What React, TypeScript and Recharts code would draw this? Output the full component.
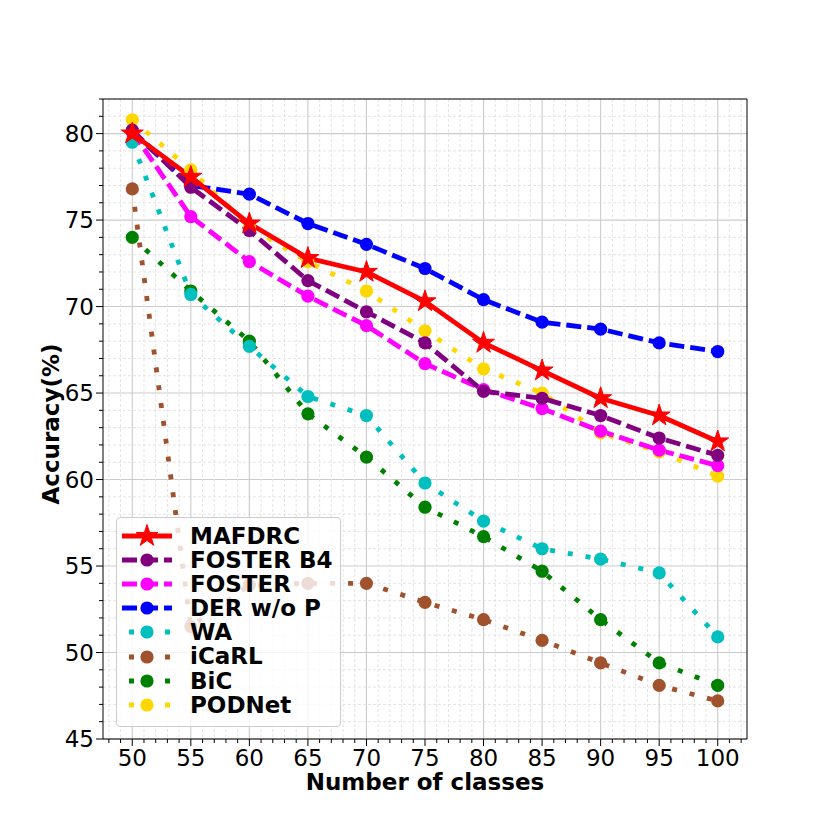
import React from "react";
import { LineChart, Line, XAxis, YAxis, CartesianGrid, Legend, Label, ReferenceLine } from "recharts";

const classes = [50, 55, 60, 65, 70, 75, 80, 85, 90, 95, 100];

const mafdrc = [80.0, 77.5, 74.8, 72.8, 72.0, 70.3, 67.9, 66.3, 64.7, 63.7, 62.2];
const fosterB4 = [80.2, 76.9, 74.4, 71.5, 69.7, 67.9, 65.1, 64.7, 63.7, 62.4, 61.4];
const foster = [80.1, 75.2, 72.6, 70.6, 68.9, 66.7, 65.2, 64.1, 62.8, 61.7, 60.8];
const derWoP = [80.1, 77.0, 76.5, 74.8, 73.6, 72.2, 70.4, 69.1, 68.7, 67.9, 67.4];
const wa = [79.5, 70.7, 67.7, 64.8, 63.7, 59.8, 57.6, 56.0, 55.4, 54.6, 50.9];
const icarl = [76.8, 51.5, 53.9, 54.0, 54.0, 52.9, 51.9, 50.7, 49.4, 48.1, 47.2];
const bic = [74.0, 70.9, 68.0, 63.8, 61.3, 58.4, 56.7, 54.7, 51.9, 49.4, 48.1];
const podnet = [80.8, 77.9, 74.6, 72.6, 70.9, 68.6, 66.4, 65.0, 62.7, 61.6, 60.2];

const seriesNames = ["MAFDRC", "FOSTER B4", "FOSTER", "DER w/o P", "WA", "iCaRL", "BiC", "PODNet"];
const seriesValues = [mafdrc, fosterB4, foster, derWoP, wa, icarl, bic, podnet];
const seriesColors = ["#ff0000", "#800080", "#ff00ff", "#0000ff", "#00bfbf", "#a0522d", "#008000", "#ffd700"];
const seriesStyles = ["solid", "dashed", "dashed", "dashed", "dotted", "dotted", "dotted", "dotted"];

// every integer gets a tick; multiples of 5 are the labelled major ones
const xTicks = Array.from({ length: 55 }, (_, i) => 48 + i);
const yTicks = Array.from({ length: 38 }, (_, i) => 45 + i);
const xDomain = [47.5, 102.5];
const yDomain = [45, 82];

const FONT = "DejaVu Sans";
const LW = 4.8;

const isMajor = (v: number) => v % 5 === 0;
const dashFor = (s: string) => (s === "dashed" ? "15 6" : s === "dotted" ? "5 13" : undefined);

const data = classes.map((c, i) => {
  const row: any = { classes: c };
  seriesNames.forEach((n, k) => {
    row[n] = seriesValues[k][i];
  });
  return row;
});

function starPoints(cx: number, cy: number, R: number) {
  const r = R * 0.382;
  const pts: string[] = [];
  for (let k = 0; k < 10; k++) {
    const a = -Math.PI / 2 + (k * Math.PI) / 5;
    const rad = k % 2 === 0 ? R : r;
    pts.push(`${cx + rad * Math.cos(a)},${cy + rad * Math.sin(a)}`);
  }
  return pts.join(" ");
}

const marker = (name: string, color: string, cx: number, cy: number, key?: any) =>
  name === "MAFDRC" ? (
    <polygon key={key} points={starPoints(cx, cy, 11.5)} fill={color} stroke={color} strokeWidth={1} />
  ) : (
    <circle key={key} cx={cx} cy={cy} r={6.6} fill={color} />
  );

const XTick = (props: any) => {
  const { x, y, payload } = props;
  const v = payload.value;
  const major = isMajor(v);
  return (
    <g>
      <line x1={x} y1={y} x2={x} y2={y + (major ? 7 : 4)} stroke="#000" strokeWidth={1} />
      {major && (
        <text x={x} y={y + 10.5} dy="0.71em" textAnchor="middle" fontFamily={FONT} fontSize={23} fill="#000">
          {v}
        </text>
      )}
    </g>
  );
};

const YTick = (props: any) => {
  const { x, y, payload } = props;
  const v = payload.value;
  const major = isMajor(v);
  return (
    <g>
      <line x1={x} y1={y} x2={x - (major ? 7 : 4)} y2={y} stroke="#000" strokeWidth={1} />
      {major && (
        <text x={x - 9} y={y} dy="0.355em" textAnchor="end" fontFamily={FONT} fontSize={23} fill="#000">
          {v}
        </text>
      )}
    </g>
  );
};

const gridLine = (ticks: number[], dir: string) => (p: any) => {
  const v = ticks[p.index];
  const major = isMajor(v);
  return (
    <line
      key={`${dir}-${p.index}`}
      x1={p.x1}
      y1={p.y1}
      x2={p.x2}
      y2={p.y2}
      stroke={major ? "#cbcbcb" : "#e4e4e4"}
      strokeWidth={major ? 1.1 : 1}
      strokeDasharray={major ? undefined : "3 2"}
      fill="none"
    />
  );
};

const renderLegend = (props: any) => {
  const payload = props.payload || [];
  return (
    <div
      style={{
        boxSizing: "border-box",
        width: 225,
        height: 210,
        paddingTop: 5.5,
        background: "rgba(255,255,255,0.8)",
        border: "1px solid #cccccc",
        borderRadius: 4,
        fontFamily: FONT,
      }}
    >
      {seriesNames.map((name, i) => {
        const entry = payload.find((p: any) => p.value === name);
        const color = entry ? entry.color : seriesColors[i];
        const dotted = seriesStyles[i] === "dotted";
        return (
          <div key={name} style={{ display: "flex", alignItems: "center", height: 24.2 }}>
            <svg width={50} height={24} style={{ marginLeft: 5, flex: "none" }}>
              <line
                x1={dotted ? 7 : 0}
                y1={12}
                x2={50}
                y2={12}
                stroke={color}
                strokeWidth={LW}
                strokeDasharray={dashFor(seriesStyles[i])}
              />
              {marker(name, color, 25, 12)}
            </svg>
            <span
              style={{
                marginLeft: 18,
                fontSize: 23,
                lineHeight: "24.2px",
                fontWeight: "bold",
                color: "#000",
                whiteSpace: "nowrap",
              }}
            >
              {name}
            </span>
          </div>
        );
      })}
    </div>
  );
};

export default function App() {
  const drawOrder = seriesNames.map((_, i) => i).reverse();
  return (
    <div style={{ position: "absolute", left: 0, top: 0, width: 830, height: 830, background: "#fff" }}>
      <LineChart width={830} height={830} data={data} margin={{ top: 99, right: 83, bottom: 0, left: 0 }}>
        <CartesianGrid
          syncWithTicks
          vertical={gridLine(xTicks, "v")}
          horizontal={gridLine(yTicks, "h")}
        />
        <XAxis
          dataKey="classes"
          type="number"
          domain={xDomain}
          allowDataOverflow
          ticks={xTicks}
          interval={0}
          tick={<XTick />}
          tickSize={0}
          tickMargin={0}
          tickLine={false}
          axisLine={{ stroke: "#000" }}
          height={91}
        >
          <Label
            content={({ viewBox }: any) => (
              <text
                x={viewBox.x + viewBox.width / 2}
                y={viewBox.y + 51}
                textAnchor="middle"
                fontFamily={FONT}
                fontWeight="bold"
                fontSize={23}
                fill="#000"
              >
                Number of classes
              </text>
            )}
          />
        </XAxis>
        <YAxis
          type="number"
          domain={yDomain}
          allowDataOverflow
          ticks={yTicks}
          interval={0}
          tick={<YTick />}
          tickSize={0}
          tickMargin={0}
          tickLine={false}
          axisLine={{ stroke: "#000" }}
          width={103}
        >
          <Label
            content={({ viewBox }: any) => {
              const cy = viewBox.y + viewBox.height / 2 + 5;
              return (
                <text
                  x={51}
                  y={cy}
                  transform={`rotate(-90 51 ${cy})`}
                  textAnchor="middle"
                  dominantBaseline="central"
                  fontFamily={FONT}
                  fontWeight="bold"
                  fontSize={23}
                  fill="#000"
                >
                  Accuracy(%)
                </text>
              );
            }}
          />
        </YAxis>
        <ReferenceLine y={yDomain[1]} stroke="#000" strokeWidth={1} />
        <ReferenceLine x={xDomain[1]} stroke="#000" strokeWidth={1} />
        {drawOrder.map((k) => {
          const name = seriesNames[k];
          const color = seriesColors[k];
          const style = seriesStyles[k];
          return (
            <Line
              key={name}
              name={name}
              dataKey={name}
              stroke={color}
              strokeWidth={LW}
              strokeDasharray={dashFor(style)}
              strokeLinejoin="round"
              strokeLinecap={style === "solid" ? "square" : "butt"}
              isAnimationActive={false}
              dot={(p: any) => marker(name, color, p.cx, p.cy, `${name}-${p.index}`)}
              activeDot={false}
            />
          );
        })}
        <Legend
          layout="horizontal"
          verticalAlign="middle"
          align="center"
          content={renderLegend}
          wrapperStyle={{ position: "absolute", left: 116, top: 517, width: 225, height: 210, margin: 0 }}
        />
      </LineChart>
    </div>
  );
}
